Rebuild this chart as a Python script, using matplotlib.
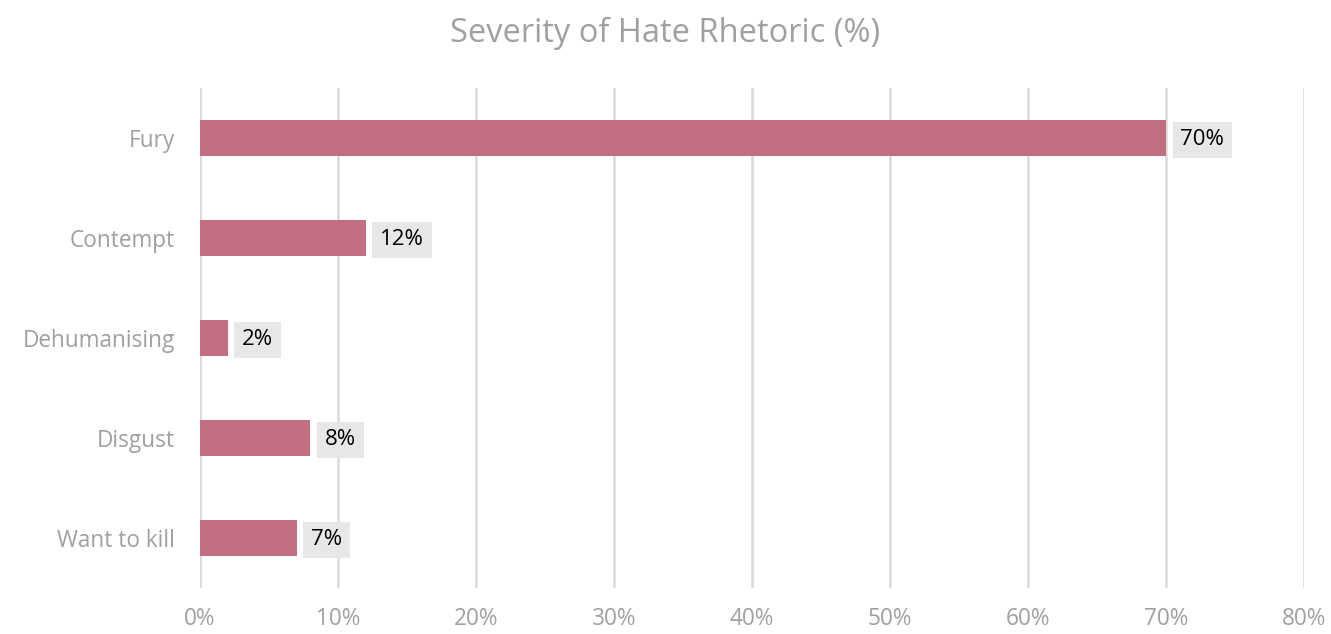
import matplotlib.pyplot as plt
from matplotlib.ticker import FuncFormatter

categories = ["Fury", "Contempt", "Dehumanising", "Disgust", "Want to kill"]
values = [70, 12, 2, 8, 7]
x_ticks = [0, 10, 20, 30, 40, 50, 60, 70, 80]

plt.rcParams['font.family'] = ['Open Sans', 'DejaVu Sans']

fig = plt.figure(figsize=(13.31, 6.34), dpi=100)
ax = fig.add_axes([0.1503, 0.0726, 0.8294, 0.7886])

ax.barh(range(len(categories)), values, height=0.36, color="#c46e82", zorder=3)

for i, v in enumerate(values):
    ax.text(v + 1.05, i + 0.02, f"{v}%", va="center", ha="left", fontsize=16, color="black",
            zorder=4, bbox=dict(boxstyle="square,pad=0.35", facecolor="#e7e7e7", edgecolor="none"))

ax.set_xlim(0, 80)
ax.set_ylim(4.5, -0.5)
ax.set_xticks(x_ticks)
ax.xaxis.set_major_formatter(FuncFormatter(lambda x, p: f"{int(x)}%"))
ax.set_yticks(range(len(categories)))
ax.set_yticklabels(categories)
ax.grid(axis="x", color="#d9d9d9", linewidth=1.8, zorder=0)
ax.tick_params(axis="both", length=0, labelsize=16.3, labelcolor="#a0a0a0")
ax.tick_params(axis="x", pad=14)
ax.tick_params(axis="y", pad=18)
for s in ax.spines.values():
    s.set_visible(False)

fig.text(0.5, 0.948, "Severity of Hate Rhetoric (%)", ha="center", va="center",
         fontsize=23.5, color="#a0a0a0")

fig.savefig("out.png", dpi=100)
